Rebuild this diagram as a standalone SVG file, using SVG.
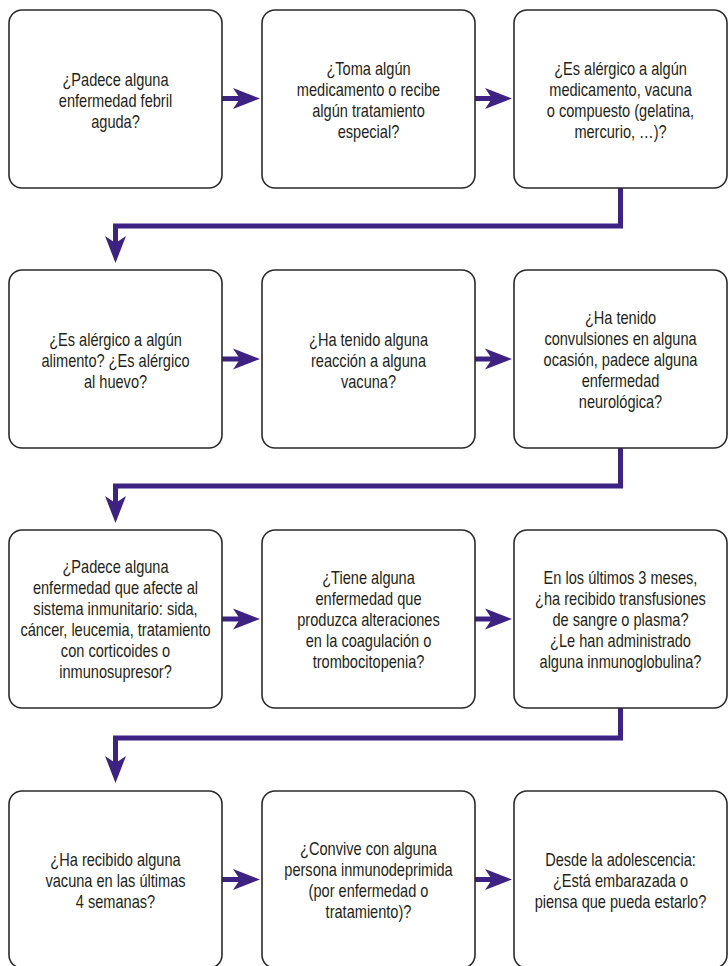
<svg xmlns="http://www.w3.org/2000/svg" width="728" height="966" viewBox="0 0 728 966">
<style>
.box{fill:#fff;stroke:#2a2a2a;stroke-width:1.6}
.t{font-family:"Liberation Sans",Arial,sans-serif;font-size:18px;fill:#231f20;text-anchor:middle}
.c{fill:none;stroke:#3d2183;stroke-width:5}
</style>
<defs>
<marker id="ah" markerUnits="userSpaceOnUse" markerWidth="28" markerHeight="22" viewBox="0 0 28 22" refX="9" refY="11" orient="auto">
<path d="M0,0.5 L27,11 L0,21.5 L7,11 Z" fill="#3d2183"/>
</marker>
</defs>
<g id="connectors">
<path class="c" d="M222,98.5 H242" marker-end="url(#ah)"/>
<path class="c" d="M475,98.5 H494" marker-end="url(#ah)"/>
<path class="c" d="M620.5,188 V226 H115.5 V245" marker-end="url(#ah)"/>
<path class="c" d="M222,359 H242" marker-end="url(#ah)"/>
<path class="c" d="M475,359 H494" marker-end="url(#ah)"/>
<path class="c" d="M620.5,448 V486 H115.5 V505" marker-end="url(#ah)"/>
<path class="c" d="M222,619 H242" marker-end="url(#ah)"/>
<path class="c" d="M475,619 H494" marker-end="url(#ah)"/>
<path class="c" d="M620.5,708 V738 H115.5 V765" marker-end="url(#ah)"/>
<path class="c" d="M222,879.5 H242" marker-end="url(#ah)"/>
<path class="c" d="M475,879.5 H494" marker-end="url(#ah)"/>
</g>
<g id="n1"><rect class="box" x="9" y="10" width="213" height="178" rx="13"/>
<g transform="translate(115.5,0) scale(0.81,1)"><text class="t" x="0" y="86">¿Padece alguna</text><text class="t" x="0" y="107">enfermedad febril</text><text class="t" x="0" y="128">aguda?</text></g></g>
<g id="n2"><rect class="box" x="262" y="10" width="213" height="178" rx="13"/>
<g transform="translate(368.5,0) scale(0.81,1)"><text class="t" x="0" y="75.5">¿Toma algún</text><text class="t" x="0" y="96.5">medicamento o recibe</text><text class="t" x="0" y="117.5">algún tratamiento</text><text class="t" x="0" y="138.5">especial?</text></g></g>
<g id="n3"><rect class="box" x="514" y="10" width="213" height="178" rx="13"/>
<g transform="translate(620.5,0) scale(0.81,1)"><text class="t" x="0" y="75.5">¿Es alérgico a algún</text><text class="t" x="0" y="96.5">medicamento, vacuna</text><text class="t" x="0" y="117.5">o compuesto (gelatina,</text><text class="t" x="0" y="138.5">mercurio, …)?</text></g></g>
<g id="n4"><rect class="box" x="9" y="270" width="213" height="178" rx="13"/>
<g transform="translate(115.5,0) scale(0.81,1)"><text class="t" x="0" y="346">¿Es alérgico a algún</text><text class="t" x="0" y="367">alimento? ¿Es alérgico</text><text class="t" x="0" y="388">al huevo?</text></g></g>
<g id="n5"><rect class="box" x="262" y="270" width="213" height="178" rx="13"/>
<g transform="translate(368.5,0) scale(0.81,1)"><text class="t" x="0" y="346">¿Ha tenido alguna</text><text class="t" x="0" y="367">reacción a alguna</text><text class="t" x="0" y="388">vacuna?</text></g></g>
<g id="n6"><rect class="box" x="514" y="270" width="213" height="178" rx="13"/>
<g transform="translate(620.5,0) scale(0.81,1)"><text class="t" x="0" y="324">¿Ha tenido</text><text class="t" x="0" y="345">convulsiones en alguna</text><text class="t" x="0" y="366">ocasión, padece alguna</text><text class="t" x="0" y="387">enfermedad</text><text class="t" x="0" y="408">neurológica?</text></g></g>
<g id="n7"><rect class="box" x="9" y="530" width="213" height="178" rx="13"/>
<g transform="translate(115.5,0) scale(0.81,1)"><text class="t" x="0" y="573">¿Padece alguna</text><text class="t" x="0" y="594">enfermedad que afecte al</text><text class="t" x="0" y="615">sistema inmunitario: sida,</text><text class="t" x="0" y="636">cáncer, leucemia, tratamiento</text><text class="t" x="0" y="657">con corticoides o</text><text class="t" x="0" y="678">inmunosupresor?</text></g></g>
<g id="n8"><rect class="box" x="262" y="530" width="213" height="178" rx="13"/>
<g transform="translate(368.5,0) scale(0.81,1)"><text class="t" x="0" y="584">¿Tiene alguna</text><text class="t" x="0" y="605">enfermedad que</text><text class="t" x="0" y="626">produzca alteraciones</text><text class="t" x="0" y="647">en la coagulación o</text><text class="t" x="0" y="668">trombocitopenia?</text></g></g>
<g id="n9"><rect class="box" x="514" y="530" width="213" height="178" rx="13"/>
<g transform="translate(620.5,0) scale(0.81,1)"><text class="t" x="0" y="584">En los últimos 3 meses,</text><text class="t" x="0" y="605">¿ha recibido transfusiones</text><text class="t" x="0" y="626">de sangre o plasma?</text><text class="t" x="0" y="647">¿Le han administrado</text><text class="t" x="0" y="668">alguna inmunoglobulina?</text></g></g>
<g id="n10"><rect class="box" x="9" y="791" width="213" height="177" rx="13"/>
<g transform="translate(115.5,0) scale(0.81,1)"><text class="t" x="0" y="866">¿Ha recibido alguna</text><text class="t" x="0" y="887">vacuna en las últimas</text><text class="t" x="0" y="908">4 semanas?</text></g></g>
<g id="n11"><rect class="box" x="262" y="791" width="213" height="177" rx="13"/>
<g transform="translate(368.5,0) scale(0.81,1)"><text class="t" x="0" y="855.5">¿Convive con alguna</text><text class="t" x="0" y="876.5">persona inmunodeprimida</text><text class="t" x="0" y="897.5">(por enfermedad o</text><text class="t" x="0" y="918.5">tratamiento)?</text></g></g>
<g id="n12"><rect class="box" x="514" y="791" width="213" height="177" rx="13"/>
<g transform="translate(620.5,0) scale(0.81,1)"><text class="t" x="0" y="866">Desde la adolescencia:</text><text class="t" x="0" y="887">¿Está embarazada o</text><text class="t" x="0" y="908">piensa que pueda estarlo?</text></g></g>
</svg>
